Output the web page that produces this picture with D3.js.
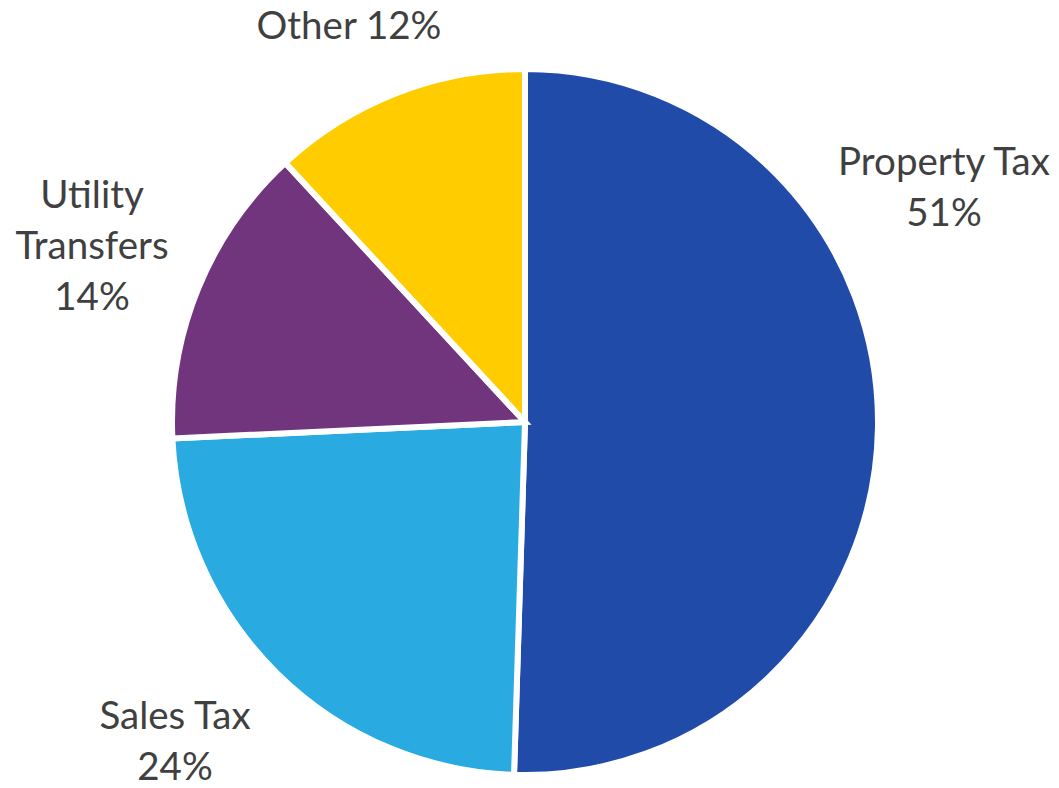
<!DOCTYPE html>
<html>
<head>
<meta charset="utf-8">
<script src="https://cdn.jsdelivr.net/npm/d3@7"></script>
<style>
  html, body { margin: 0; padding: 0; background: #ffffff; }
  svg { display: block; }
</style>
</head>
<body>
<svg id="chart" width="1059" height="788"></svg>
<script>
// Revenue sources, percent of total, clockwise from 12 o'clock
const categories = ["Property Tax", "Sales Tax", "Utility Transfers", "Other"];
const shares = [51, 24, 14, 12];
const colors = ["#214BA9", "#29ABE2", "#71357E", "#FFCC00"];

// Label text lines for each slice
const labelLines = [
  ["Property Tax", "51%"],
  ["Sales Tax", "24%"],
  ["Utility", "Transfers", "14%"],
  ["Other 12%"]
];
// Label anchor (centre x, first baseline y)
const labelAnchors = [
  [944, 175],
  [175, 729],
  [92, 208],
  [349, 39]
];

const width = 1059, height = 788;
const cx = 525, cy = 422, radius = 353;
const lineGap = 51;

const svg = d3.select("#chart");
const g = svg.append("g").attr("transform", `translate(${cx},${cy})`);

const pie = d3.pie().sort(null).value(d => d.value);
const arc = d3.arc().innerRadius(0).outerRadius(radius);

const data = categories.map((c, i) => ({ name: c, value: shares[i], color: colors[i] }));

g.selectAll("path.slice")
  .data(pie(data))
  .join("path")
  .attr("class", "slice")
  .attr("d", arc)
  .attr("fill", d => d.data.color)
  .attr("stroke", "#ffffff")
  .attr("stroke-width", 6)
  .attr("stroke-linejoin", "miter");

const labels = svg.append("g")
  .attr("font-family", "Lato, 'Open Sans', sans-serif")
  .attr("font-size", 38.5)
  .attr("fill", "#404040")
  .attr("text-anchor", "middle");

labelLines.forEach((lines, i) => {
  const t = labels.append("text")
    .attr("x", labelAnchors[i][0])
    .attr("y", labelAnchors[i][1]);
  lines.forEach((line, j) => {
    t.append("tspan")
      .attr("x", labelAnchors[i][0])
      .attr("dy", j === 0 ? 0 : lineGap)
      .text(line);
  });
});
</script>
</body>
</html>
